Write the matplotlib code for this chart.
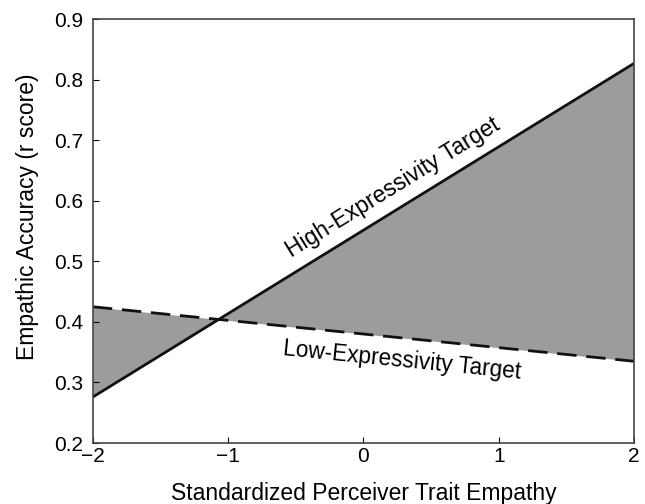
import matplotlib
matplotlib.use("Agg")
from matplotlib import pyplot as plt

plt.rcParams['font.family'] = ['Liberation Sans', 'DejaVu Sans']

empathy = [-2, 2]
high_expr = [0.276, 0.827]
low_expr = [0.425, 0.335]
xticks = [-2, -1, 0, 1, 2]
yticks = [0.2, 0.3, 0.4, 0.5, 0.6, 0.7, 0.8, 0.9]

fig = plt.figure(figsize=(6.45, 5.04), dpi=100)
ax = fig.add_axes([0.144, 0.121, 0.839, 0.841])

ax.fill_between(empathy, high_expr, low_expr, color='#9c9c9c', interpolate=True, linewidth=0)
ax.plot(empathy, high_expr, color='#111111', linewidth=2.0, solid_capstyle='butt')
ax.plot(empathy, low_expr, color='#111111', linewidth=2.0, dashes=(7, 3.5))

ax.set_xlim(-2, 2)
ax.set_ylim(0.2, 0.9)
ax.set_xticks(xticks)
ax.set_xticklabels(['\u22122', '\u22121', '0', '1', '2'])
ax.set_yticks(yticks)
ax.set_yticklabels(['%.1f' % v for v in yticks])
ax.tick_params(direction='in', length=4, labelsize=15, width=0.8)
ax.tick_params(axis='y', pad=7)
ax.tick_params(axis='x', pad=3)
for s in ax.spines.values():
    s.set_color('#444444')
    s.set_linewidth(1.2)

ax.text(0.22, 0.622, 'High-Expressivity Target', rotation=31.6, fontsize=16.5,
        ha='center', va='center', rotation_mode='anchor')
ax.text(0.285, 0.337, 'Low-Expressivity Target', rotation=-5.7, fontsize=16.3,
        ha='center', va='center', rotation_mode='anchor')

ax.set_xlabel('Standardized Perceiver Trait Empathy', fontsize=16.5)
ax.set_ylabel('Empathic Accuracy (r score)', fontsize=16.5)
ax.xaxis.set_label_coords(0.5, -0.092)
ax.yaxis.set_label_coords(-0.100, 0.534)

plt.savefig('out.png', dpi=100)
